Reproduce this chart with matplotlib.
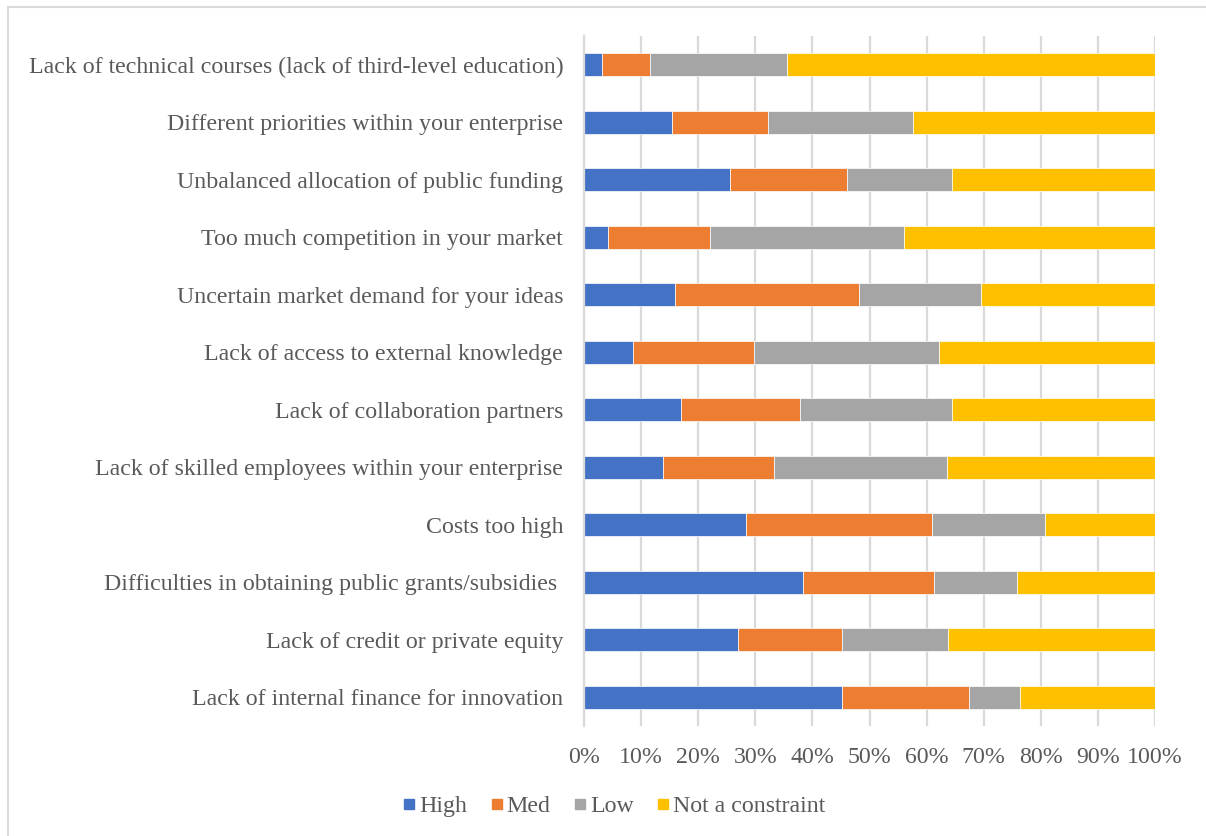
import matplotlib
matplotlib.use("Agg")
import matplotlib.pyplot as plt
from matplotlib.lines import Line2D
import numpy as np

# Innovation constraints, bottom row first (shares of respondents, %)
categories = [
    "Lack of internal finance for innovation",
    "Lack of credit or private equity",
    "Difficulties in obtaining public grants/subsidies ",
    "Costs too high",
    "Lack of skilled employees within your enterprise",
    "Lack of collaboration partners",
    "Lack of access to external knowledge",
    "Uncertain market demand for your ideas",
    "Too much competition in your market",
    "Unbalanced allocation of public funding",
    "Different priorities within your enterprise",
    "Lack of technical courses (lack of third-level education)",
]
high = [45.2, 26.9, 38.4, 28.3, 13.8, 17.0, 8.6, 16.0, 4.2, 25.5, 15.4, 3.2]
med = [22.3, 18.3, 22.9, 32.7, 19.5, 20.9, 21.1, 32.1, 17.9, 20.6, 16.8, 8.4]
low = [8.9, 18.5, 14.5, 19.8, 30.3, 26.6, 32.4, 21.5, 34.0, 18.3, 25.5, 24.0]
not_constraint = [23.6, 36.3, 24.2, 19.2, 36.4, 35.5, 37.9, 30.4, 43.9, 35.6, 42.3, 64.4]

series_names = ["High", "Med", "Low", "Not a constraint"]
colors = ["#4472C4", "#ED7D31", "#A5A5A5", "#FFC000"]
xticks = [0, 10, 20, 30, 40, 50, 60, 70, 80, 90, 100]
xticklabels = [f"{t}%" for t in xticks]

plt.rcParams["font.family"] = ["Liberation Serif", "DejaVu Serif"]
text_color = "#595959"
fs = 17.2

fig = plt.figure(figsize=(12.06, 8.36), dpi=100)
ax = fig.add_axes([584 / 1206, 1 - 726 / 836, (1155 - 584) / 1206, (726 - 36) / 836])

y = np.arange(len(categories))
left = np.zeros(len(categories))
for vals, name, c in zip([high, med, low, not_constraint], series_names, colors):
    vals = np.array(vals)
    ax.barh(y, vals, left=left, height=0.4, color=c, label=name,
            edgecolor="white", linewidth=0.5, zorder=3)
    left += vals

ax.set_xlim(0, 100)
ax.set_ylim(-0.5, len(categories) - 0.5)
ax.set_xticks(xticks)
ax.set_xticklabels(xticklabels)
ax.set_yticks(y)
ax.set_yticklabels(categories)
ax.tick_params(axis="both", length=0, labelsize=fs, labelcolor=text_color)
ax.tick_params(axis="y", pad=15)
ax.tick_params(axis="x", pad=15)
ax.grid(axis="x", color="#D9D9D9", linewidth=1.6, zorder=0)
for s in ["top", "right", "bottom"]:
    ax.spines[s].set_visible(False)
ax.spines["left"].set_color("#D9D9D9")
ax.spines["left"].set_linewidth(1.6)
ax.spines["left"].set_zorder(4)

handles = [Line2D([], [], marker="s", linestyle="none", markersize=7.5,
                  markerfacecolor=c, markeredgecolor=c) for c in colors]
fig.legend(handles, series_names, loc="center", bbox_to_anchor=(614 / 1206, 1 - 806 / 836),
           ncol=4, frameon=False, fontsize=fs, labelcolor=text_color,
           handletextpad=0.15, columnspacing=0.95, handlelength=0.55)

# Chart-area frame (top and left edges)
fig.add_artist(Line2D([8 / 1206, 1.0], [1 - 7 / 836, 1 - 7 / 836], color="#D9D9D9", linewidth=1.5))
fig.add_artist(Line2D([8 / 1206, 8 / 1206], [0.0, 1 - 7 / 836], color="#D9D9D9", linewidth=1.5))

fig.savefig("out.png", dpi=100, facecolor="white")
